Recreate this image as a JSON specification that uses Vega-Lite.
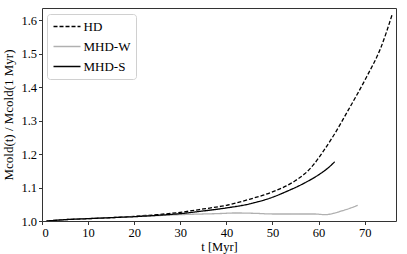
{
  "$schema": "https://vega.github.io/schema/vega-lite/v6.json",
  "width": 354,
  "height": 213,
  "autosize": {"type": "none"},
  "padding": {"left": 42, "top": 8, "right": 11, "bottom": 33},
  "config": {
    "font": "Liberation Serif",
    "view": {"stroke": "#333333", "strokeWidth": 1},
    "axis": {
      "grid": false,
      "domain": false,
      "tickColor": "#333333",
      "tickSize": 3.5,
      "labelColor": "#000000",
      "labelFontSize": 12.5,
      "titleFontSize": 13,
      "titleFontWeight": "normal",
      "titleColor": "#000000",
      "labelPadding": 2
    }
  },
  "data": {
    "values": [
      {"run": "HD", "t": 1, "v": 1.0},
      {"run": "HD", "t": 5, "v": 1.004},
      {"run": "HD", "t": 10, "v": 1.007},
      {"run": "HD", "t": 15, "v": 1.010},
      {"run": "HD", "t": 20, "v": 1.014},
      {"run": "HD", "t": 25, "v": 1.019},
      {"run": "HD", "t": 30, "v": 1.026},
      {"run": "HD", "t": 35, "v": 1.036},
      {"run": "HD", "t": 40, "v": 1.047},
      {"run": "HD", "t": 45, "v": 1.065},
      {"run": "HD", "t": 50, "v": 1.087},
      {"run": "HD", "t": 53, "v": 1.105},
      {"run": "HD", "t": 55, "v": 1.121},
      {"run": "HD", "t": 57, "v": 1.141},
      {"run": "HD", "t": 59, "v": 1.170},
      {"run": "HD", "t": 61, "v": 1.208},
      {"run": "HD", "t": 63.5, "v": 1.261},
      {"run": "HD", "t": 66.5, "v": 1.333},
      {"run": "HD", "t": 70.5, "v": 1.433},
      {"run": "HD", "t": 73.5, "v": 1.518},
      {"run": "HD", "t": 76, "v": 1.619},
      {"run": "MHD-W", "t": 1, "v": 1.0},
      {"run": "MHD-W", "t": 5, "v": 1.004},
      {"run": "MHD-W", "t": 10, "v": 1.007},
      {"run": "MHD-W", "t": 15, "v": 1.010},
      {"run": "MHD-W", "t": 20, "v": 1.013},
      {"run": "MHD-W", "t": 25, "v": 1.016},
      {"run": "MHD-W", "t": 30, "v": 1.019},
      {"run": "MHD-W", "t": 35, "v": 1.021},
      {"run": "MHD-W", "t": 38, "v": 1.022},
      {"run": "MHD-W", "t": 42, "v": 1.024},
      {"run": "MHD-W", "t": 46, "v": 1.023},
      {"run": "MHD-W", "t": 50, "v": 1.021},
      {"run": "MHD-W", "t": 55, "v": 1.021},
      {"run": "MHD-W", "t": 59, "v": 1.021},
      {"run": "MHD-W", "t": 61.5, "v": 1.019},
      {"run": "MHD-W", "t": 63, "v": 1.022},
      {"run": "MHD-W", "t": 65, "v": 1.030},
      {"run": "MHD-W", "t": 67, "v": 1.039},
      {"run": "MHD-W", "t": 68.5, "v": 1.047},
      {"run": "MHD-S", "t": 1, "v": 1.0},
      {"run": "MHD-S", "t": 5, "v": 1.004},
      {"run": "MHD-S", "t": 10, "v": 1.007},
      {"run": "MHD-S", "t": 15, "v": 1.010},
      {"run": "MHD-S", "t": 20, "v": 1.013},
      {"run": "MHD-S", "t": 25, "v": 1.017},
      {"run": "MHD-S", "t": 30, "v": 1.022},
      {"run": "MHD-S", "t": 35, "v": 1.030},
      {"run": "MHD-S", "t": 40, "v": 1.039},
      {"run": "MHD-S", "t": 45, "v": 1.051},
      {"run": "MHD-S", "t": 50, "v": 1.071},
      {"run": "MHD-S", "t": 53, "v": 1.088},
      {"run": "MHD-S", "t": 57, "v": 1.114},
      {"run": "MHD-S", "t": 60, "v": 1.138},
      {"run": "MHD-S", "t": 62, "v": 1.158},
      {"run": "MHD-S", "t": 63.5, "v": 1.177}
    ]
  },
  "mark": {"type": "line", "strokeWidth": 1.3, "clip": true, "interpolate": "monotone"},
  "encoding": {
    "x": {
      "field": "t",
      "type": "quantitative",
      "scale": {"domain": [0, 76.8], "nice": false, "zero": false},
      "axis": {"values": [0, 10, 20, 30, 40, 50, 60, 70], "title": "t [Myr]", "titlePadding": 1, "titleFontSize": 12.5}
    },
    "y": {
      "field": "v",
      "type": "quantitative",
      "scale": {"domain": [1.0, 1.637], "nice": false, "zero": false},
      "axis": {"values": [1.0, 1.1, 1.2, 1.3, 1.4, 1.5, 1.6], "format": ".1f", "title": "Mcold(t) / Mcold(1 Myr)", "titlePadding": 5}
    },
    "color": {
      "field": "run",
      "type": "nominal",
      "scale": {"domain": ["HD", "MHD-W", "MHD-S"], "range": ["#000000", "#b0b0b0", "#000000"]},
      "legend": {
        "title": null,
        "orient": "none",
        "legendX": 5,
        "legendY": 6,
        "symbolType": "M-2,0H2",
        "symbolSize": 182,
        "symbolOffset": 7.5,
        "symbolStrokeWidth": 1.3,
        "labelFontSize": 13,
        "labelColor": "#000000",
        "labelOffset": 9,
        "rowPadding": 5,
        "padding": 5,
        "fillColor": "#ffffff",
        "strokeColor": "#d0d0d0",
        "cornerRadius": 3
      }
    },
    "strokeDash": {
      "field": "run",
      "type": "nominal",
      "scale": {"domain": ["HD", "MHD-W", "MHD-S"], "range": [[4, 2], [1, 0], [1, 0]]},
      "legend": {
        "title": null,
        "orient": "none",
        "legendX": 5,
        "legendY": 6,
        "symbolType": "M-2,0H2",
        "symbolSize": 182,
        "symbolOffset": 7.5,
        "symbolStrokeWidth": 1.3,
        "labelFontSize": 13,
        "labelColor": "#000000",
        "labelOffset": 9,
        "rowPadding": 5,
        "padding": 5,
        "fillColor": "#ffffff",
        "strokeColor": "#d0d0d0",
        "cornerRadius": 3
      }
    }
  }
}
